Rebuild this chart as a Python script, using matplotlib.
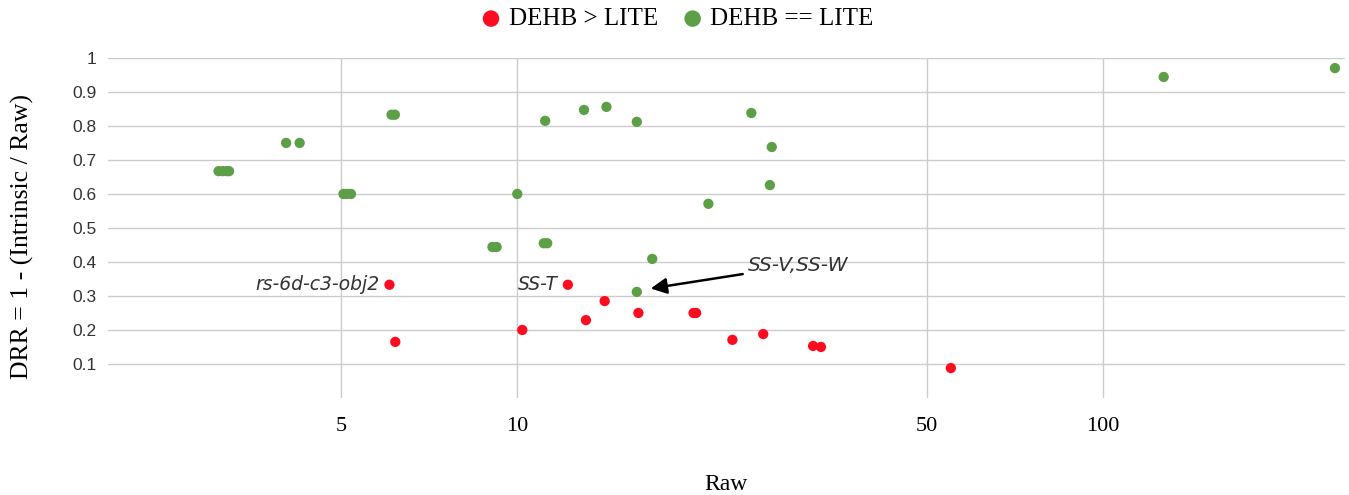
import matplotlib.pyplot as plt
from matplotlib.ticker import FixedLocator, NullLocator

# DEHB == LITE (green)
eq_raw = [3.09, 3.14, 3.19, 3.22, 4.03, 4.25, 6.1, 6.18, 5.05, 5.12, 5.2, 10.0,
          9.07, 9.22, 11.1, 11.25, 11.16, 13.0, 14.2, 16.0, 17.0, 16.0, 21.2,
          25.1, 27.2, 27.0, 127, 249]
eq_drr = [0.667, 0.667, 0.667, 0.667, 0.75, 0.75, 0.833, 0.833, 0.6, 0.6, 0.6, 0.6,
          0.444, 0.444, 0.455, 0.455, 0.815, 0.847, 0.856, 0.812, 0.409, 0.312, 0.571,
          0.838, 0.738, 0.626, 0.944, 0.97]

# DEHB > LITE (red)
gt_raw = [6.05, 6.19, 10.2, 12.2, 13.1, 14.1, 16.1, 20.0, 20.2, 23.3, 26.3, 32.0, 33.0, 55.0]
gt_drr = [0.333, 0.165, 0.2, 0.333, 0.229, 0.285, 0.25, 0.25, 0.25, 0.171, 0.188, 0.153, 0.15, 0.088]

x_ticks = [5, 10, 50, 100]
y_ticks = [0.1, 0.2, 0.3, 0.4, 0.5, 0.6, 0.7, 0.8, 0.9, 1.0]
y_labels = ["0.1", "0.2", "0.3", "0.4", "0.5", "0.6", "0.7", "0.8", "0.9", "1"]

RED = "#fb0d1f"
GREEN = "#5c9f47"
SERIF = "Liberation Serif"
SANS = "Liberation Sans"

fig = plt.figure(figsize=(13.49, 4.95), dpi=100)
ax = fig.add_axes([0.080, 0.196, 0.917, 0.687])

ax.scatter(gt_raw, gt_drr, s=55, color=RED, edgecolors="none", label="DEHB > LITE", zorder=3)
ax.scatter(eq_raw, eq_drr, s=55, color=GREEN, edgecolors="none", label="DEHB == LITE", zorder=3)

ax.set_xscale("log")
ax.set_xlim(2.0, 259)
ax.set_ylim(0, 1)

ax.xaxis.set_major_locator(FixedLocator(x_ticks))
ax.xaxis.set_minor_locator(NullLocator())
ax.set_xticklabels([str(t) for t in x_ticks], fontfamily=SERIF, fontsize=16)
ax.set_yticks(y_ticks)
ax.set_yticklabels(y_labels, fontfamily=SANS, fontsize=12.5, color="#333333")
ax.tick_params(axis="both", length=0)
ax.tick_params(axis="x", pad=14)
ax.tick_params(axis="y", pad=8)

ax.grid(True, color="#cccccc", linewidth=1)
ax.set_axisbelow(True)
for sp in ax.spines.values():
    sp.set_visible(False)

ax.set_xlabel("Raw", fontfamily=SERIF, fontsize=17, labelpad=27)
ax.set_ylabel("DRR = 1 - (Intrinsic / Raw)", fontfamily=SERIF, fontsize=18.5)
ax.yaxis.set_label_coords(-0.060, 0.476)

# annotations
ann_style = dict(fontfamily="DejaVu Sans", fontstyle="italic", color="#333333", va="center")
ax.annotate("rs-6d-c3-obj2", (gt_raw[0], gt_drr[0]), xytext=(-7, 0),
            textcoords="offset points", ha="right", fontsize=13.5, **ann_style)
ax.annotate("SS-T", (gt_raw[3], gt_drr[3]), xytext=(-7, 0),
            textcoords="offset points", ha="right", fontsize=13.5, **ann_style)
ax.annotate("SS-V,SS-W", xy=(16.9, 0.322), xytext=(24.8, 0.39), ha="left", fontsize=14.5,
            arrowprops=dict(arrowstyle="-|>", color="black", lw=1.8, mutation_scale=24,
                            shrinkA=2, shrinkB=0), **ann_style)

fig.legend(loc="upper center", bbox_to_anchor=(0.502, 1.03), ncol=2, frameon=False,
           prop={"family": SERIF, "size": 18}, markerscale=1.6, handlelength=0.8,
           handletextpad=0.3, columnspacing=1.0)

fig.savefig("out.png", dpi=100)
